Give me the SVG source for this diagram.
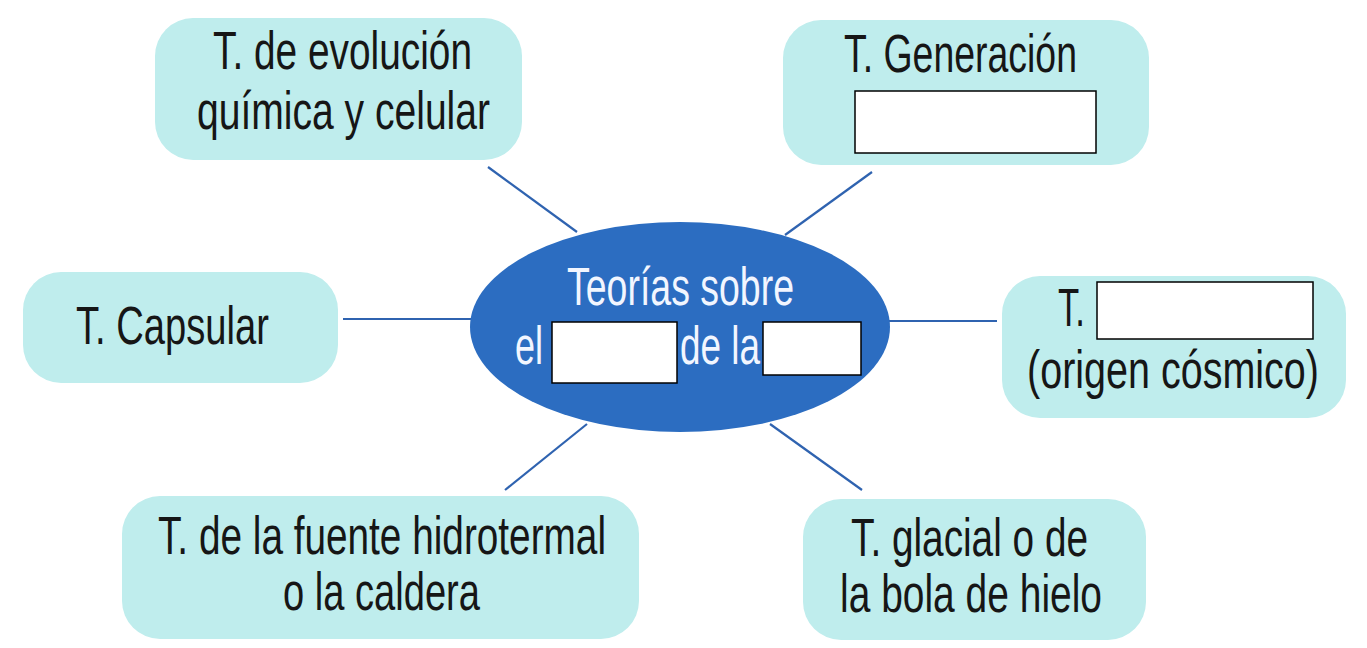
<svg xmlns="http://www.w3.org/2000/svg" width="1367" height="648" viewBox="0 0 1367 648">
<style>
.box{fill:#bfeded;}
.t{font-family:"Liberation Sans Narrow","Liberation Sans",Arial,sans-serif;font-size:53px;fill:#161616;}
.w{fill:#f2f6ff;}
.blank{fill:#ffffff;stroke:#000000;stroke-width:1.5;}
.ln{stroke:#2f63b0;stroke-width:2.2;fill:none;}
</style>
<rect width="1367" height="648" fill="#ffffff"/>
<g id="connectors">
<line class="ln" x1="488" y1="167" x2="577" y2="232"/>
<line class="ln" x1="872" y1="172" x2="785" y2="235"/>
<line class="ln" x1="343" y1="319" x2="471" y2="319"/>
<line class="ln" x1="889" y1="321" x2="997" y2="321"/>
<line class="ln" x1="587" y1="424" x2="505" y2="490"/>
<line class="ln" x1="770" y1="424" x2="862" y2="490"/>
</g>
<g id="center">
<ellipse cx="680" cy="327" rx="210" ry="105" fill="#2c6dc1"/>
<text class="t w" x="567" y="305" textLength="227" lengthAdjust="spacingAndGlyphs">Teorías sobre</text>
<text class="t w" x="515" y="364" textLength="28" lengthAdjust="spacingAndGlyphs">el</text>
<rect class="blank" x="552" y="322" width="125" height="61"/>
<text class="t w" x="680" y="364" textLength="80" lengthAdjust="spacingAndGlyphs">de la</text>
<rect class="blank" x="763" y="322" width="98" height="53"/>
</g>
<g id="n-evolucion">
<rect class="box" x="155" y="18" width="367" height="142" rx="38"/>
<text class="t" x="213" y="69" textLength="259" lengthAdjust="spacingAndGlyphs">T. de evolución</text>
<text class="t" x="197" y="129" textLength="293" lengthAdjust="spacingAndGlyphs">química y celular</text>
</g>
<g id="n-generacion">
<rect class="box" x="783" y="20" width="366" height="145" rx="38"/>
<text class="t" x="844" y="72" textLength="233" lengthAdjust="spacingAndGlyphs">T. Generación</text>
<rect class="blank" x="855" y="91" width="241" height="62"/>
</g>
<g id="n-capsular">
<rect class="box" x="23" y="272" width="315" height="111" rx="38"/>
<text class="t" x="76" y="344" textLength="193" lengthAdjust="spacingAndGlyphs">T. Capsular</text>
</g>
<g id="n-cosmico">
<rect class="box" x="1002" y="276" width="344" height="142" rx="38"/>
<text class="t" x="1058" y="326" textLength="27" lengthAdjust="spacingAndGlyphs">T.</text>
<rect class="blank" x="1097" y="282" width="216" height="57"/>
<text class="t" x="1027" y="388" font-size="50" textLength="292" lengthAdjust="spacingAndGlyphs">(origen cósmico)</text>
</g>
<g id="n-hidrotermal">
<rect class="box" x="122" y="496" width="517" height="143" rx="38"/>
<text class="t" x="158" y="554" textLength="448" lengthAdjust="spacingAndGlyphs">T. de la fuente hidrotermal</text>
<text class="t" x="283" y="610" textLength="197" lengthAdjust="spacingAndGlyphs">o la caldera</text>
</g>
<g id="n-glacial">
<rect class="box" x="803" y="499" width="343" height="141" rx="38"/>
<text class="t" x="851" y="556" textLength="237" lengthAdjust="spacingAndGlyphs">T. glacial o de</text>
<text class="t" x="840" y="612" textLength="262" lengthAdjust="spacingAndGlyphs">la bola de hielo</text>
</g>
</svg>
